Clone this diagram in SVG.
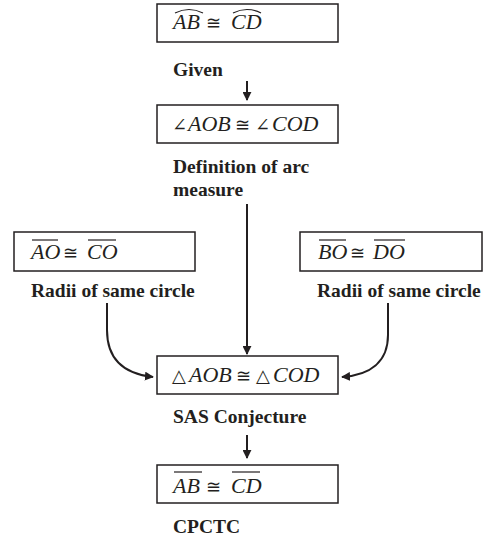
<svg xmlns="http://www.w3.org/2000/svg" width="490" height="537" viewBox="0 0 490 537">
<style>
.box{fill:#fff;stroke:#231f20;stroke-width:1.5}
.math{font-family:"Liberation Serif","DejaVu Serif",serif;font-size:22px;font-style:italic;fill:#231f20}
.sym{font-style:normal;font-family:"DejaVu Serif","Liberation Serif",serif;font-size:18px}
.lbl{font-family:"Liberation Serif","Times New Roman",serif;font-size:19.5px;font-weight:bold;fill:#231f20}
.bar{fill:none;stroke:#231f20;stroke-width:1.2}
.conn{fill:none;stroke:#231f20;stroke-width:2}
</style>
<defs>
<marker id="ah" viewBox="0 0 10 10" refX="9" refY="5" markerWidth="4.5" markerHeight="4.5" markerUnits="strokeWidth" orient="auto">
<path d="M0,0 L10,5 L0,10 z" fill="#231f20"/>
</marker>
</defs>

<g id="connectors">
<line class="conn" x1="247" y1="81" x2="247" y2="100" marker-end="url(#ah)"/>
<line class="conn" x1="247" y1="204" x2="247" y2="354" marker-end="url(#ah)"/>
<path class="conn" d="M107,303 L107,330 C107,360 125,374 153,377" marker-end="url(#ah)"/>
<path class="conn" d="M388,303 L388,335 C388,362 370,375 342,377" marker-end="url(#ah)"/>
<line class="conn" x1="247" y1="435" x2="247" y2="458" marker-end="url(#ah)"/>
</g>

<g id="n1">
<rect class="box" x="157" y="4" width="181" height="38"/>
<text class="math" y="29"><tspan x="173">AB</tspan><tspan class="sym" x="206">≅</tspan><tspan x="231">CD</tspan></text>
<path class="bar" d="M175,13 Q189,6 203,13"/>
<path class="bar" d="M233,13 Q247,6 261,13"/>
<text class="lbl" x="173" y="76">Given</text>
</g>

<g id="n2">
<rect class="box" x="157" y="105" width="181" height="38"/>
<text class="math" y="131"><tspan class="sym" x="172">∠</tspan><tspan x="188">AOB</tspan><tspan class="sym" x="235">≅</tspan><tspan class="sym" x="255">∠</tspan><tspan x="272">COD</tspan></text>
<text class="lbl" x="173" y="173">Definition of arc</text>
<text class="lbl" x="173" y="196">measure</text>
</g>

<g id="n3">
<rect class="box" x="14" y="232" width="181" height="39"/>
<text class="math" y="259"><tspan x="31">AO</tspan><tspan class="sym" x="63">≅</tspan><tspan x="87">CO</tspan></text>
<line class="bar" x1="32" y1="240" x2="58" y2="240"/>
<line class="bar" x1="88" y1="240" x2="116" y2="240"/>
<text class="lbl" x="31" y="297">Radii of same circle</text>
</g>

<g id="n4">
<rect class="box" x="300" y="232" width="182" height="39"/>
<text class="math" y="259"><tspan x="318">BO</tspan><tspan class="sym" x="350">≅</tspan><tspan x="373">DO</tspan></text>
<line class="bar" x1="319" y1="240" x2="346" y2="240"/>
<line class="bar" x1="374" y1="240" x2="405" y2="240"/>
<text class="lbl" x="317" y="297">Radii of same circle</text>
</g>

<g id="n5">
<rect class="box" x="157" y="356" width="181" height="38"/>
<text class="math" y="382"><tspan class="sym" x="172">△</tspan><tspan x="189">AOB</tspan><tspan class="sym" x="236">≅</tspan><tspan class="sym" x="256">△</tspan><tspan x="273">COD</tspan></text>
<text class="lbl" x="173" y="423">SAS Conjecture</text>
</g>

<g id="n6">
<rect class="box" x="157" y="465" width="181" height="38"/>
<text class="math" y="493"><tspan x="173">AB</tspan><tspan class="sym" x="206">≅</tspan><tspan x="231">CD</tspan></text>
<line class="bar" x1="174" y1="472" x2="202" y2="472"/>
<line class="bar" x1="232" y1="472" x2="260" y2="472"/>
<text class="lbl" x="173" y="533">CPCTC</text>
</g>
</svg>
